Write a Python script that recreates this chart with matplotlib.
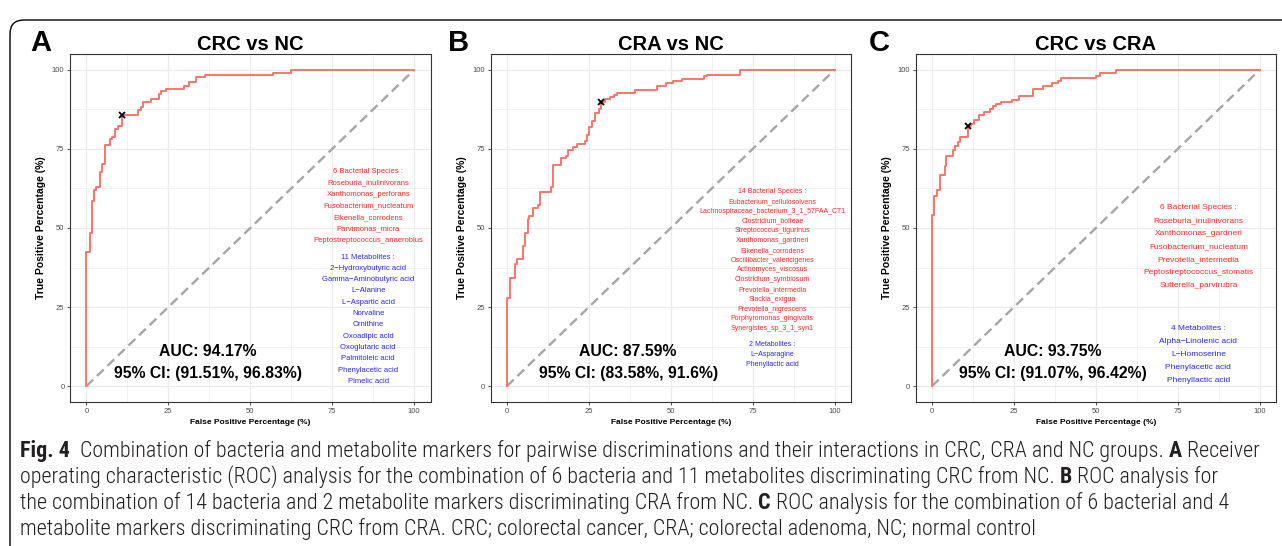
import matplotlib
matplotlib.use('Agg')
import matplotlib.pyplot as plt
from matplotlib import font_manager
from matplotlib.patches import FancyBboxPatch
from matplotlib.transforms import IdentityTransform

# ---- data ----
titles = ['CRC vs NC', 'CRA vs NC', 'CRC vs CRA']
panel_letters = ['A', 'B', 'C']
auc_text = ['AUC: 94.17%', 'AUC: 87.59%', 'AUC: 93.75%']
ci_text = ['95% CI: (91.51%, 96.83%)', '95% CI: (83.58%, 91.6%)',
           '95% CI: (91.07%, 96.42%)']

fpr_a = [0, 0, 1.0, 1.7, 2.3, 3.0, 4.1, 4.8, 5.6, 7.3, 7.8, 8.6, 9.5, 11.0,
         15.8, 16.6, 17.3, 19.6, 22.1, 22.9, 24.4, 29.8, 31.3, 33.5, 36.1,
         56.9, 62.5, 100]
tpr_a = [0, 42.4, 48.3, 58.4, 61.9, 63.0, 67.7, 70.3, 76.1, 78.0, 78.7, 81.4,
         82.2, 85.6, 87.2, 88.2, 89.8, 90.8, 92.4, 93.3, 94.0, 95.0, 96.3,
         97.7, 98.3, 98.9, 100, 100]

fpr_b = [0, 0, 1.0, 2.4, 3.1, 4.8, 5.6, 6.3, 6.9, 7.9, 9.4, 10.2, 13.4, 14.1,
         16.5, 18.1, 18.8, 20.2, 21.4, 23.9, 24.4, 25.2, 26.0, 26.8, 28.0,
         28.8, 30.0, 31.4, 32.6, 33.6, 39.0, 45.8, 48.4, 50.7, 53.5, 60.1,
         61.1, 71.0, 100]
tpr_b = [0, 27.9, 34.3, 38.5, 40.1, 44.4, 48.5, 52.7, 53.7, 56.4, 57.2, 61.4,
         63.0, 69.8, 72.1, 72.8, 74.8, 75.6, 76.4, 77.4, 79.3, 81.9, 83.7,
         86.4, 87.7, 89.9, 90.7, 91.4, 92.1, 92.8, 93.5, 95.0, 95.8, 96.4,
         97.2, 97.9, 98.5, 100, 100]

fpr_c = [0, 0, 0.7, 1.5, 2.3, 3.9, 4.3, 6.4, 7.1, 7.8, 8.5, 10.9, 12.0, 12.9,
         14.3, 15.8, 17.8, 18.6, 19.6, 21.1, 24.4, 26.7, 30.9, 33.8, 36.5,
         38.5, 39.5, 50.1, 51.4, 56.0, 100]
tpr_c = [0, 54.2, 60.0, 61.9, 66.9, 69.5, 72.9, 74.7, 75.8, 77.2, 78.9, 82.1,
         82.9, 84.0, 85.8, 86.6, 87.5, 88.5, 89.3, 89.8, 90.6, 91.7, 94.0,
         95.0, 95.8, 96.6, 97.5, 98.2, 99.0, 100, 100]

best_fpr = [11.0, 28.8, 10.9]
best_tpr = [85.6, 89.9, 82.1]

bact_head = ['6 Bacterial Species :', '14 Bacterial Species :', '6 Bacterial Species :']
bact_a = ['Roseburia_inulinivorans', 'Xanthomonas_perforans',
          'Fusobacterium_nucleatum', 'Eikenella_corrodens', 'Parvimonas_micra',
          'Peptostreptococcus_anaerobius']
bact_b = ['Eubacterium_cellulosolvens', 'Lachnospiraceae_bacterium_3_1_57FAA_CT1',
          'Clostridium_bolteae', 'Streptococcus_tigurinus', 'Xanthomonas_gardneri',
          'Eikenella_corrodens', 'Oscillibacter_valericigenes',
          'Actinomyces_viscosus', 'Clostridium_symbiosum', 'Prevotella_intermedia',
          'Slackia_exigua', 'Prevotella_nigrescens', 'Porphyromonas_gingivalis',
          'Synergistes_sp_3_1_syn1']
bact_c = ['Roseburia_inulinivorans', 'Xanthomonas_gardneri',
          'Fusobacterium_nucleatum', 'Prevotella_intermedia',
          'Peptostreptococcus_stomatis', 'Sutterella_parvirubra']

metab_head = ['11 Metabolites :', '2 Metabolites :', '4 Metabolites :']
metab_a = ['2\u2212Hydroxybutyric acid', 'Gamma\u2212Aminobutyric acid',
           'L\u2212Alanine', 'L\u2212Aspartic acid', 'Norvaline', 'Ornithine',
           'Oxoadipic acid', 'Oxoglutaric acid', 'Palmitoleic acid',
           'Phenylacetic acid', 'Pimelic acid']
metab_b = ['L\u2212Asparagine', 'Phenyllactic acid']
metab_c = ['Alpha\u2212Linolenic acid', 'L\u2212Homoserine', 'Phenylacetic acid',
           'Phenyllactic acid']

caption_lines = [
    [('Fig. 4', True),
     ('  Combination of bacteria and metabolite markers for pairwise discriminations '
      'and their interactions in CRC, CRA and NC groups. ', False),
     ('A', True), (' Receiver', False)],
    [('operating characteristic (ROC) analysis for the combination of 6 bacteria and '
      '11 metabolites discriminating CRC from NC. ', False),
     ('B', True), (' ROC analysis for', False)],
    [('the combination of 14 bacteria and 2 metabolite markers discriminating CRA '
      'from NC. ', False),
     ('C', True), (' ROC analysis for the combination of 6 bacterial and 4', False)],
    [('metabolite markers discriminating CRC from CRA. CRC; colorectal cancer, CRA; '
      'colorectal adenoma, NC; normal control', False)],
]

fprs = [fpr_a, fpr_b, fpr_c]
tprs = [tpr_a, tpr_b, tpr_c]
bacts = [bact_a, bact_b, bact_c]
metabs = [metab_a, metab_b, metab_c]

# ---- fonts ----
MAIN = ['Liberation Sans', 'DejaVu Sans']
fonts = font_manager.fontManager.ttflist
names = {f.name for f in fonts}
CAP, CAP_STRETCH = ['DejaVu Sans'], 'normal'
for c in ['Liberation Sans Narrow', 'Roboto Condensed', 'Open Sans Condensed',
          'Noto Sans Condensed', 'DejaVu Sans Condensed']:
    if c in names:
        CAP = [c, 'DejaVu Sans']
        break
else:
    for fam in ['Open Sans', 'Noto Sans', 'Roboto', 'DejaVu Sans']:
        if any(f.name == fam and f.stretch in ('condensed', 'semi-condensed')
               for f in fonts):
            CAP, CAP_STRETCH = [fam, 'DejaVu Sans'], 'condensed'
            break

# ---- layout (pixels of the 1282x546 canvas) ----
W, H = 1282, 546
ax_left = [70, 490.5, 915.6]
ax_w, ax_top, ax_bot = 360.5, 54, 402
letter_x = [41, 459, 879]
list_x = [86, 81, 81.3]
list_size = [5.5, 5.0, 6.0]
bact_top = [171.7, 191.7, 207.7]
bact_step = [11.4, 9.77, 13.0]
metab_top = [257, 344, 328]
metab_step = [11.3, 10.0, 13.2]


def py_to_y(py):
    # pixel row -> data y (0 at row 386, 100 at row 70)
    return (386 - py) / 3.16


fig = plt.figure(figsize=(W / 100, H / 100), dpi=100, facecolor='white')

# rounded frame around the figure
frame = FancyBboxPatch((10, -30), 1320, 546 - 10 + 30 - 10,
                       boxstyle='round,pad=0,rounding_size=14',
                       transform=IdentityTransform(), fill=False,
                       edgecolor='black', linewidth=1.0, zorder=0)
fig.patches.append(frame)

for i in range(3):
    ax = fig.add_axes([ax_left[i] / W, 1 - ax_bot / H, ax_w / W, (ax_bot - ax_top) / H])
    ax.set_xlim(-5, 105)
    ax.set_ylim(-5, 105)
    ax.set_xticks([0, 25, 50, 75, 100])
    ax.set_yticks([0, 25, 50, 75, 100])
    ax.set_xticks([12.5, 37.5, 62.5, 87.5], minor=True)
    ax.set_yticks([12.5, 37.5, 62.5, 87.5], minor=True)
    ax.grid(which='major', color='#EBEBEB', linewidth=0.9)
    ax.grid(which='minor', color='#EBEBEB', linewidth=0.45)
    ax.set_axisbelow(True)
    for sp in ax.spines.values():
        sp.set_color('#333333')
        sp.set_linewidth(0.8)
    ax.tick_params(which='major', length=2.5, width=0.6, color='#333333',
                   labelcolor='#4D4D4D', labelsize=5.5, pad=1.5)
    ax.tick_params(which='minor', length=0)
    for lab in ax.get_xticklabels() + ax.get_yticklabels():
        lab.set_family(MAIN)

    ax.plot([0, 100], [0, 100], color='#A6A6A6', linewidth=1.7,
            dashes=(4, 2.2), zorder=2)
    ax.step(fprs[i], tprs[i], where='post', color='#F8766D', linewidth=1.4, zorder=3)
    ax.plot(best_fpr[i], best_tpr[i], marker='x', color='black', markersize=4,
            markeredgewidth=1.3, zorder=4)

    ax.set_title(titles[i], fontsize=14.5, fontweight='bold', family=MAIN, pad=3)
    ax.set_xlabel('False Positive Percentage (%)', fontsize=6, fontweight='bold',
                  family=MAIN, labelpad=3)
    ax.set_ylabel('True Positive Percentage (%)', fontsize=7.5, fontweight='bold',
                  family=MAIN, labelpad=4)

    ax.text(37, py_to_y(351.7), auc_text[i], ha='center', va='center',
            fontsize=11.3, fontweight='bold', family=MAIN)
    ax.text(37, py_to_y(373.5), ci_text[i], ha='center', va='center',
            fontsize=11.3, fontweight='bold', family=MAIN)

    lines = [bact_head[i]] + bacts[i]
    for k, s in enumerate(lines):
        ax.text(list_x[i], py_to_y(bact_top[i] + k * bact_step[i]), s, ha='center',
                va='center', fontsize=list_size[i], color='#FF2828', family=MAIN)
    lines = [metab_head[i]] + metabs[i]
    for k, s in enumerate(lines):
        ax.text(list_x[i], py_to_y(metab_top[i] + k * metab_step[i]), s, ha='center',
                va='center', fontsize=list_size[i], color='#2828FF', family=MAIN)

    fig.text(letter_x[i] / W, 1 - 43 / H, panel_letters[i], ha='center',
             va='center', fontsize=21, fontweight='bold', family=MAIN)

# ---- caption, drawn run by run so bold pieces sit inline ----
renderer = fig.canvas.get_renderer()


def run_width(s, size, bold):
    kw = dict(fontsize=size, fontweight='bold' if bold else 'light', family=CAP,
              fontstretch=CAP_STRETCH)
    t = fig.text(0, 0, '|' + s + '|', **kw)
    w1 = t.get_window_extent(renderer).width
    t.remove()
    t = fig.text(0, 0, '||', **kw)
    w2 = t.get_window_extent(renderer).width
    t.remove()
    return w1 - w2


base = 10.0
w_line1 = sum(run_width(s, base, b) for s, b in caption_lines[0])
cap_size = base * 1242 / w_line1
baselines = [457, 483, 509, 535]
for line, yb in zip(caption_lines, baselines):
    x = 20.0
    for s, b in line:
        fig.text(x / W, 1 - yb / H, s, ha='left', va='baseline', fontsize=cap_size,
                 fontweight='bold' if b else 'light', family=CAP,
                 fontstretch=CAP_STRETCH, color='#231F20')
        x += run_width(s, cap_size, b)

fig.savefig('out.png', dpi=100, facecolor='white')
